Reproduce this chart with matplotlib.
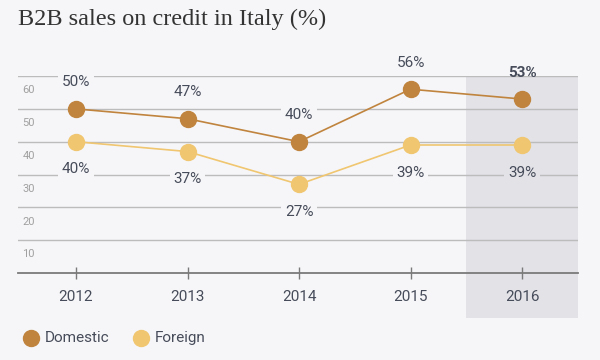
import matplotlib.pyplot as plt
from matplotlib.transforms import blended_transform_factory

years = ["2012", "2013", "2014", "2015", "2016"]
domestic = [50, 47, 40, 56, 53]
foreign = [40, 37, 27, 39, 39]
y_ticks = [10, 20, 30, 40, 50, 60]

bg = "#f6f6f8"
shade = "#e2e2e7"
dom_color = "#c0843e"
for_color = "#f0c670"
text_color = "#474c5a"
sans = ["Roboto", "DejaVu Sans"]

fig = plt.figure(figsize=(6, 3.6), dpi=100, facecolor=bg)
ax = fig.add_axes([0.03, 0.2417, 0.933, 0.547])
ax.set_facecolor(bg)

x = list(range(len(years)))
ax.set_xlim(-0.52, 4.5)
ax.set_ylim(0, 60)

# highlighted last year
ax.axvspan(3.5, 4.5, ymin=-0.23, ymax=1, color=shade, lw=0, clip_on=False, zorder=0)

for v in y_ticks:
    ax.axhline(v, color="#bcbcbc", lw=1, zorder=1)
trans = blended_transform_factory(ax.transAxes, ax.transData)
for v in y_ticks:
    ax.text(0.008, v - 2.8, str(v), transform=trans, ha="left", va="top",
            fontsize=8, color="#a0a0a0", family=sans)

ax.plot(x, domestic, color=dom_color, lw=1.2, marker="o", ms=11.5, zorder=3)
ax.plot(x, foreign, color=for_color, lw=1.2, marker="o", ms=11.5, zorder=3)

last = len(years) - 1
for i, (d, f) in enumerate(zip(domestic, foreign)):
    fc = shade if i == last else bg
    top_box = None if i == last else dict(boxstyle="square,pad=0.25", fc=fc, ec="none")
    ax.annotate(f"{d}%", (i, d), xytext=(0, 19), textcoords="offset points",
                ha="center", va="center", fontsize=11, color=text_color, family=sans,
                fontweight="bold" if i == last else "normal", annotation_clip=False,
                bbox=top_box, zorder=2)
    ax.annotate(f"{f}%", (i, f), xytext=(0, -20), textcoords="offset points",
                ha="center", va="center", fontsize=11, color=text_color, family=sans,
                annotation_clip=False,
                bbox=dict(boxstyle="square,pad=0.25", fc=fc, ec="none"), zorder=2)

for s in ["top", "right", "left"]:
    ax.spines[s].set_visible(False)
ax.spines["bottom"].set_color("#7a7a7a")
ax.spines["bottom"].set_linewidth(1.3)
ax.set_yticks([])
ax.set_xticks(x)
ax.set_xticklabels(years, fontsize=11, color=text_color, family=sans)
ax.tick_params(axis="x", direction="inout", length=8, width=1, color="#7a7a7a", pad=8)

fig.text(0.03, 0.945, "B2B sales on credit in Italy (%)", fontsize=17.5,
         family="Liberation Serif", color="#333333", va="center")

# legend
fig.lines.append(plt.Line2D([0.052], [0.062], transform=fig.transFigure, marker="o",
                            ms=11.5, color=dom_color, lw=0))
fig.text(0.075, 0.062, "Domestic", fontsize=11, color=text_color, family=sans, va="center")
fig.lines.append(plt.Line2D([0.235], [0.062], transform=fig.transFigure, marker="o",
                            ms=11.5, color=for_color, lw=0))
fig.text(0.258, 0.062, "Foreign", fontsize=11, color=text_color, family=sans, va="center")

fig.savefig("out.png", dpi=100, facecolor=bg)
